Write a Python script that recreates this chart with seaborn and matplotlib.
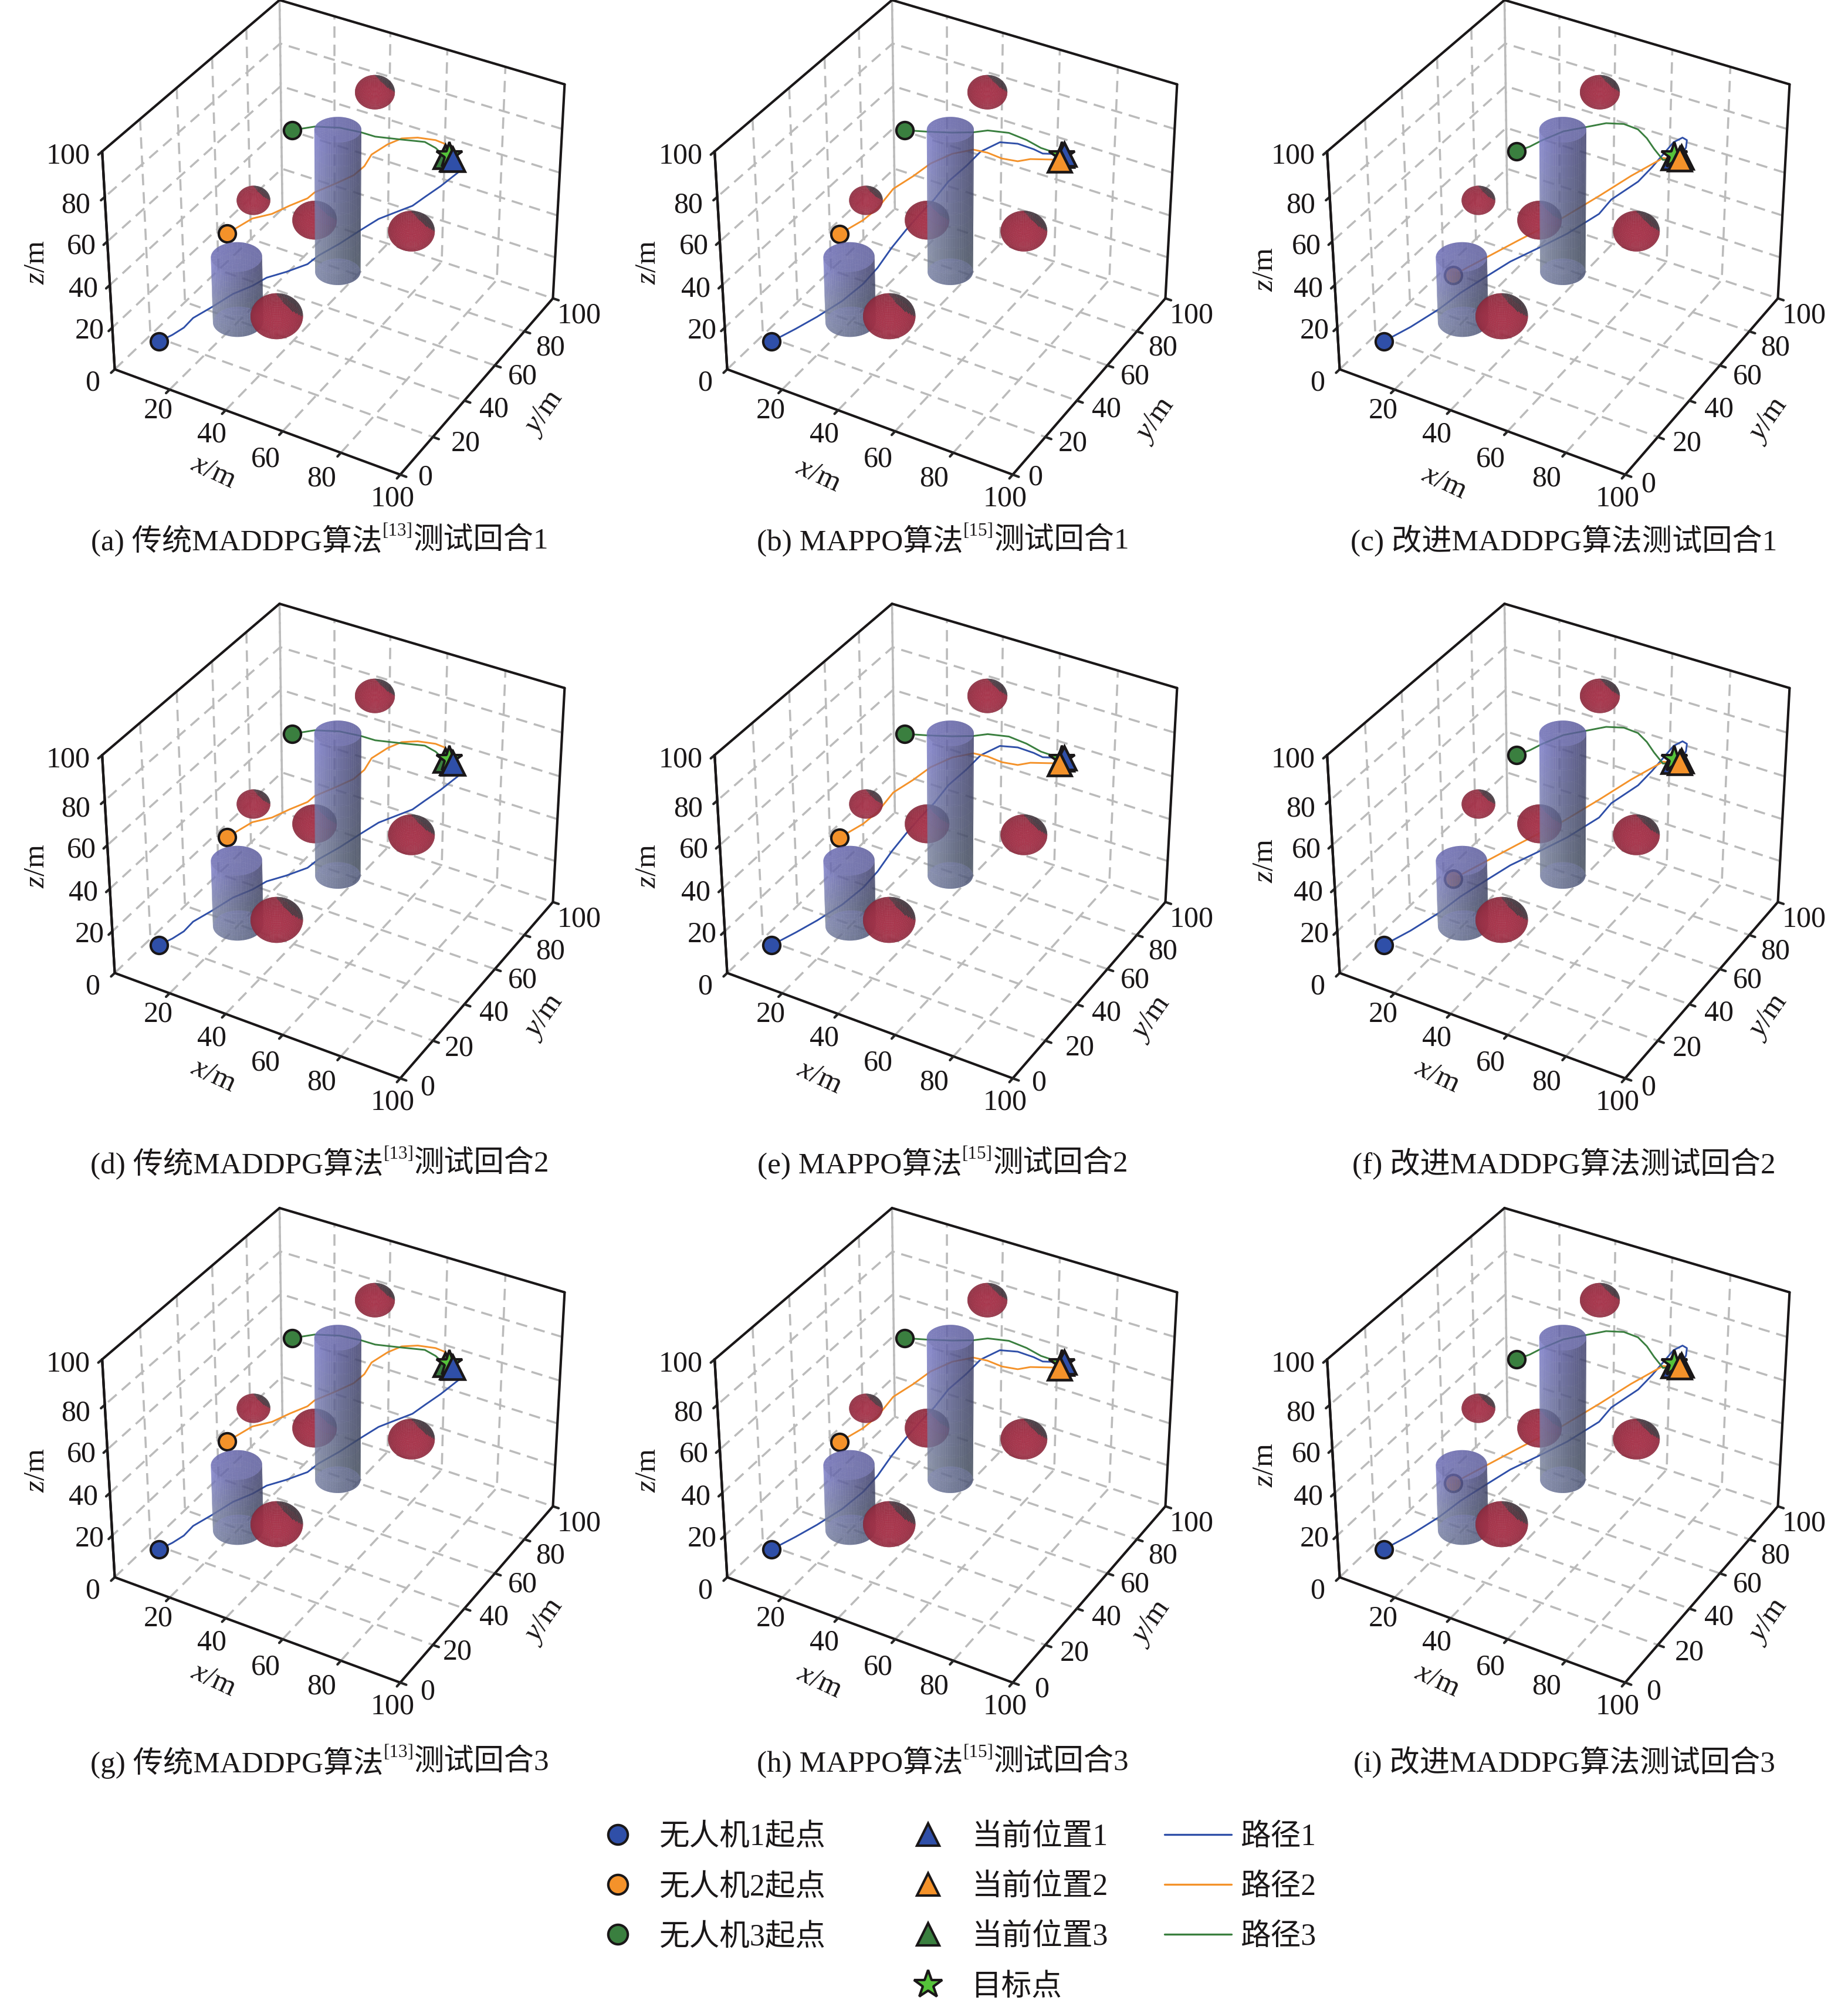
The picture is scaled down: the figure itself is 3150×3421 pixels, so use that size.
import numpy as np
import matplotlib
matplotlib.use("Agg")
import matplotlib.pyplot as plt
from matplotlib.lines import Line2D
from mpl_toolkits.mplot3d import proj3d
import seaborn as sns

FIG_W, FIG_H = 3150, 3421
DPI = 300
ELEV, AZIM, Z_RATIO, FOCAL = 35, -60, 0.8, 1.0
PX_PER_UNIT = 4786
ORIGIN = (575.4, 388.9)
COL_SHIFT = [0, 1044, 2088]
ROW_SHIFT = [0, 1029, 2059]

TICKS = [0, 20, 40, 60, 80, 100]

# 障碍物
SPHERE_X = [40.4, 26.3, 41.8, 64.8, 40.2]
SPHERE_Y = [89.8, 40.1, 50.2, 69.9, 29.9]
SPHERE_Z = [80, 60, 50, 40, 20]
SPHERE_R = [6.2, 5.1, 6.8, 7.2, 8.0]
CYL_X = [33.7, 20.0]
CYL_Y = [78.4, 39.6]
CYL_R = [7.3, 7.9]
CYL_H = [68.0, 31.2]

# 路径: 传统MADDPG
A_BLUE_X = [10.1, 13.7, 16.6, 18.3, 22.1, 26.0, 30.8, 34.2, 39.7, 45.0, 47.4, 51.6, 55.4, 59.0, 63.3, 68.0, 70.7, 73.8, 76.7, 73.3]
A_BLUE_Y = [10.0, 12.0, 14.1, 16.8, 21.5, 27.6, 31.4, 34.1, 36.7, 40.4, 42.7, 48.4, 54.8, 59.4, 61.6, 64.3, 67.2, 71.4, 78.5, 80.1]
A_BLUE_Z = [10, 13.2, 16.3, 19.5, 22.6, 25.8, 28.9, 32.1, 35.3, 38.4, 41.6, 44.7, 47.9, 51.1, 54.2, 57.4, 60.5, 63.7, 66.8, 70]
A_ORANGE_X = [10.1, 14.3, 19.9, 24.0, 28.4, 30.2, 35.1, 39.2, 41.1, 41.4, 44.5, 48.2, 53.9, 60.9, 65.7, 71.0]
A_ORANGE_Y = [49.9, 58.3, 61.0, 65.0, 68.6, 69.9, 74.9, 78.8, 82.2, 86.2, 90.9, 93.3, 93.3, 91.9, 88.7, 81.1]
A_ORANGE_Z = [30, 32.7, 35.3, 38, 40.7, 43.3, 46, 48.7, 51.3, 54, 56.7, 59.3, 62, 64.7, 67.3, 70]
A_GREEN_X = [10.1, 16.9, 25.6, 34.3, 40.9, 49.9, 58.7, 64.6, 70.5]
A_GREEN_Y = [90.0, 92.8, 93.5, 91.9, 89.3, 89.1, 89.0, 85.0, 79.6]
A_GREEN_Z = [50, 52.5, 55, 57.5, 60, 62.5, 65, 67.5, 70]

# 路径: MAPPO
B_BLUE_X = [10.1, 15.1, 19.6, 24.0, 27.0, 28.5, 28.9, 29.9, 31.3, 33.2, 34.1, 36.7, 38.7, 43.4, 50.7, 58.5, 64.1, 71.9]
B_BLUE_Y = [10.0, 16.0, 21.2, 28.7, 36.3, 42.5, 50.3, 57.4, 63.7, 69.2, 76.5, 83.2, 88.8, 92.8, 91.1, 87.1, 82.5, 81.6]
B_BLUE_Z = [10, 13.5, 17.1, 20.6, 24.1, 27.6, 31.2, 34.7, 38.2, 41.8, 45.3, 48.8, 52.4, 55.9, 59.4, 62.9, 66.5, 70]
B_ORANGE_X = [10.2, 14.7, 17.3, 18.0, 21.8, 25.0, 30.1, 36.7, 43.4, 50.8, 57.7, 62.4, 72.1]
B_ORANGE_Y = [49.7, 56.7, 61.1, 69.7, 75.5, 81.0, 85.7, 87.7, 84.8, 80.7, 78.3, 77.7, 78.3]
B_ORANGE_Z = [30, 33.3, 36.7, 40, 43.3, 46.7, 50, 53.3, 56.7, 60, 63.3, 66.7, 70]
B_GREEN_X = [10.1, 18.3, 27.0, 34.3, 39.2, 47.1, 55.3, 62.7, 71.6]
B_GREEN_Y = [90.0, 90.2, 91.0, 91.9, 92.4, 91.8, 88.3, 83.9, 81.0]
B_GREEN_Z = [50, 52.5, 55, 57.5, 60, 62.5, 65, 67.5, 70]

# 路径: 改进MADDPG
C_BLUE_X = [10.0, 15.1, 19.8, 23.0, 27.6, 31.7, 37.5, 43.2, 48.4, 49.7, 54.0, 55.8, 57.2, 58.6, 61.7, 65.4, 68.9, 71.7, 73.0]
C_BLUE_Y = [10.0, 17.3, 26.4, 33.8, 43.1, 49.3, 56.8, 64.6, 75.6, 81.1, 90.6, 96.5, 100.9, 105.3, 105.3, 101.1, 93.8, 86.1, 78.8]
C_BLUE_Z = [10, 13.3, 16.7, 20, 23.3, 26.7, 30, 33.3, 36.7, 40, 43.3, 46.7, 50, 53.3, 56.7, 60, 63.3, 66.7, 70]
C_ORANGE_X = [11.4, 20.0, 27.8, 34.8, 42.2, 50.1, 57.4, 65.3, 74.0]
C_ORANGE_Y = [48.1, 55.6, 60.1, 61.5, 64.1, 72.5, 79.5, 85.5, 79.4]
C_ORANGE_Z = [12.0, 19.2, 26.5, 33.8, 41.0, 48.2, 55.5, 62.8, 70.0]
C_GREEN_X = [13.1, 16.8, 19.7, 24.4, 31.3, 36.6, 43.0, 49.7, 55.9, 62.0, 68.5, 74.0]
C_GREEN_Y = [84.5, 86.6, 89.4, 94.9, 98.8, 100.9, 100.9, 97.9, 92.3, 85.7, 79.3, 80.5]
C_GREEN_Z = [45.0, 47.3, 49.5, 51.8, 54.1, 56.4, 58.6, 60.9, 63.2, 65.5, 67.7, 70.0]

PATHS = [
    [(A_BLUE_X, A_BLUE_Y, A_BLUE_Z), (A_ORANGE_X, A_ORANGE_Y, A_ORANGE_Z), (A_GREEN_X, A_GREEN_Y, A_GREEN_Z)],
    [(B_BLUE_X, B_BLUE_Y, B_BLUE_Z), (B_ORANGE_X, B_ORANGE_Y, B_ORANGE_Z), (B_GREEN_X, B_GREEN_Y, B_GREEN_Z)],
    [(C_BLUE_X, C_BLUE_Y, C_BLUE_Z), (C_ORANGE_X, C_ORANGE_Y, C_ORANGE_Z), (C_GREEN_X, C_GREEN_Y, C_GREEN_Z)],
]

STAR = (71.6, 80.9, 70)
CURRENT = [
    {"blue": (73.6, 79.4, 70), "orange": (73.1, 79.5, 70), "green": (70.9, 79.4, 70)},
    {"blue": (71.9, 81.8, 70), "orange": (72.2, 78.2, 70), "green": (71.6, 80.9, 70)},
    {"blue": (71.9, 79.5, 70), "orange": (74.0, 79.7, 70), "green": (74.0, 80.8, 70)},
]
DRAW_ORDER = [
    ["orange", "green", "star", "blue"],
    ["green", "star", "blue", "orange"],
    ["blue", "star", "green", "orange"],
]

CAPTIONS = [
    [("(a) 传统MADDPG算法", "[13]", "测试回合1"), ("(b) MAPPO算法", "[15]", "测试回合1"), ("(c) 改进MADDPG算法测试回合1", "", "")],
    [("(d) 传统MADDPG算法", "[13]", "测试回合2"), ("(e) MAPPO算法", "[15]", "测试回合2"), ("(f) 改进MADDPG算法测试回合2", "", "")],
    [("(g) 传统MADDPG算法", "[13]", "测试回合3"), ("(h) MAPPO算法", "[15]", "测试回合3"), ("(i) 改进MADDPG算法测试回合3", "", "")],
]
CAPTION_X = [545, 1607, 2666]
CAPTION_Y = [917, 1979, 2999]

# 刻度文字相对刻度的像素偏移
X_LABEL_OFF = {20: (-19, 36), 40: (-24, 42), 60: (-29, 48), 80: (-33, 45), 100: (-13, 41)}
Z_LABEL_OFF = {0: (-38, 24), 20: (-39, 6), 40: (-45, 7), 60: (-44, 9), 80: (-50, 15), 100: (-58, 8)}
Y_LABEL_OFF = {40: (50, 15), 60: (47, 19), 80: (44, 28), 100: (45, 30)}
Y0_OFF = [[(42, 5), (38, 5), (39, 17)], [(46, 16), (44, 8), (39, 16)], [(46, 16), (49, 12), (48, 16)]]
Y20_OFF = [[(56, 11), (47, 11), (50, 11)], [(45, 13), (59, 12), (50, 13)], [(42, 12), (50, 14), (54, 13)]]
XLAB_POS = [[(364, 805), (351, 811), (374, 823)], [(364, 805), (353, 808), (362, 806)], [(364, 805), (353, 808), (362, 806)]]
YLAB_POS = [[(927, 704), (925, 716), (926, 716)], [(927, 704), (918, 707), (926, 704)], [(927, 704), (918, 707), (926, 704)]]
ZLAB_POS = [[(63, 447), (61, 447), (69, 459)], [(63, 447), (61, 447), (69, 438)], [(63, 447), (61, 447), (69, 438)]]

BLUE, ORANGE, GREEN = sns.color_palette(["#2F4FA8", "#F4922A", "#3A7F3F"])
STAR_GREEN = "#55C23A"
EDGE = "#1A1718"
GRID = "#BBBBBB"

sns.set_theme(style="white")
plt.rcParams["font.family"] = ["Liberation Serif", "Noto Sans CJK SC"]
plt.rcParams["mathtext.fontset"] = "custom"
plt.rcParams["mathtext.rm"] = "Liberation Serif"
plt.rcParams["mathtext.it"] = "Liberation Serif:italic"
plt.rcParams["text.color"] = EDGE

az, el = np.radians(AZIM), np.radians(ELEV)
RIGHT = np.array([-np.sin(az), np.cos(az), 0.0])
UP = np.array([-np.sin(el) * np.cos(az), -np.sin(el) * np.sin(az), np.cos(el)])
VIEW = np.array([np.cos(el) * np.cos(az), np.cos(el) * np.sin(az), np.sin(el)])


def draw_sphere(ax, cx, cy, cz, r, zorder):
    u, v = np.meshgrid(np.linspace(0, 2 * np.pi, 61), np.linspace(0, np.pi, 41))
    nx, ny, nz = np.cos(u) * np.sin(v), np.sin(u) * np.sin(v), np.cos(v)
    n = np.stack([nx, ny, nz], axis=-1)
    cap = n @ ((RIGHT + UP) / np.sqrt(2) + 0.1 * VIEW) > 0.72
    lum = 0.80 + 0.24 * np.clip(n @ VIEW, 0, 1)[..., None]
    col = np.array([0.65, 0.20, 0.29]) * lum
    col[cap] = [0.27, 0.22, 0.25]
    ax.plot_surface(cx + r * nx, cy + r * ny, cz + r * nz, facecolors=col, rstride=1, cstride=1,
                    shade=False, linewidth=0, alpha=0.88, zorder=zorder)


def draw_cylinder(ax, cx, cy, r, h, zorder):
    t, zz = np.meshgrid(np.linspace(0, 2 * np.pi, 61), np.linspace(0, h, 13))
    nx, ny = np.cos(t), np.sin(t)
    side = (nx * RIGHT[0] + ny * RIGHT[1])[..., None]
    frac = (zz / h)[..., None]
    top = np.array([0.47, 0.47, 0.80]) * (0.5 - side / 2) + np.array([0.23, 0.23, 0.42]) * (0.5 + side / 2)
    bottom = np.array([0.47, 0.51, 0.59]) * (0.5 - side / 2) + np.array([0.22, 0.26, 0.32]) * (0.5 + side / 2)
    col = np.clip(top * frac + bottom * (1 - frac), 0, 1)
    rr, tt = np.meshgrid(np.linspace(0, r, 6), np.linspace(0, 2 * np.pi, 61))
    ax.plot_surface(cx + rr * np.cos(tt), cy + rr * np.sin(tt), np.zeros_like(rr), color=(0.45, 0.47, 0.75),
                    shade=False, linewidth=0, alpha=0.62, zorder=zorder)
    ax.plot_surface(cx + r * nx, cy + r * ny, zz, facecolors=col, rstride=1, cstride=1,
                    shade=False, linewidth=0, alpha=0.62, zorder=zorder + 0.1)
    ax.plot_surface(cx + rr * np.cos(tt), cy + rr * np.sin(tt), np.full_like(rr, h), color=(0.40, 0.40, 0.68),
                    shade=False, linewidth=0, alpha=0.62, zorder=zorder + 0.2)


def style_axes(ax):
    ax.view_init(ELEV, AZIM)
    ax.set_box_aspect((1, 1, Z_RATIO))
    ax.set_proj_type("persp", focal_length=FOCAL)
    ax.set_xlim(0, 100, view_margin=0)
    ax.set_ylim(0, 100, view_margin=0)
    ax.set_zlim(0, 100, view_margin=0)
    ax.set_xticks(TICKS, [""] * len(TICKS))
    ax.set_yticks(TICKS, [""] * len(TICKS))
    # z=0 的网格线会与地面边线重叠成实线, 不画
    ax.set_zticks(TICKS[1:], [""] * (len(TICKS) - 1))
    ax.zaxis.set_ticks_position("lower")
    ax.set_facecolor("none")
    ax.computed_zorder = False
    for axis in (ax.xaxis, ax.yaxis, ax.zaxis):
        axis.set_pane_color((1, 1, 1, 0))
        axis.pane.set_edgecolor((1, 1, 1, 0))
        axis.line.set_color(EDGE)
        axis.line.set_linewidth(1.0)
        axis._axinfo["grid"].update(color=GRID, linewidth=0.85, linestyle=(0, (5.5, 3.3)))
        axis._axinfo["tick"].update(inward_factor=0.25, outward_factor=0.0, linewidth={True: 1.0, False: 1.0}, color=EDGE)
    lo, hi = TICKS[0], TICKS[-1]
    for xs, ys, zs in [((lo, lo), (lo, hi), (hi, hi)), ((lo, hi), (hi, hi), (hi, hi)), ((hi, hi), (hi, hi), (lo, hi)), ((lo, lo), (lo, lo), (lo, hi))]:
        ax.plot(xs, ys, zs, color=EDGE, lw=1.0, zorder=1)


def panel_axes(fig, col, row):
    x0, y0 = ORIGIN[0] + COL_SHIFT[col], ORIGIN[1] + ROW_SHIFT[row]
    ax = fig.add_axes([0, 0, 0.3, 0.3], projection="3d")
    style_axes(ax)
    vx0, vx1 = ax.viewLim.intervalx
    vy0, vy1 = ax.viewLim.intervaly
    left = x0 + PX_PER_UNIT * vx0
    bottom = FIG_H - (y0 - PX_PER_UNIT * vy0)
    ax.set_position([left / FIG_W, bottom / FIG_H, PX_PER_UNIT * (vx1 - vx0) / FIG_W, PX_PER_UNIT * (vy1 - vy0) / FIG_H])
    return ax


def tick_text(ax, M, pos, text, off):
    px, py, _ = proj3d.proj_transform(*pos, M)
    ax.annotate(text, (px, py), xycoords="data", xytext=(off[0] * 72 / DPI, -off[1] * 72 / DPI), textcoords="offset points",
                ha="center", va="center", fontsize=12, annotation_clip=False, color=EDGE, zorder=20)


def add_tick_labels(ax, col, row):
    M = ax.get_proj()
    lo, hi = TICKS[0], TICKS[-1]
    for t, off in X_LABEL_OFF.items():
        tick_text(ax, M, (t, lo, lo), str(t), off)
    for t, off in Z_LABEL_OFF.items():
        tick_text(ax, M, (lo, lo, t), str(t), off)
    tick_text(ax, M, (hi, 0, lo), "0", Y0_OFF[row][col])
    tick_text(ax, M, (hi, 20, lo), "20", Y20_OFF[row][col])
    for t, off in Y_LABEL_OFF.items():
        tick_text(ax, M, (hi, t, lo), str(t), off)


def put_caption(fig, cx, y, parts):
    main, sup, rest = parts
    rend = fig.canvas.get_renderer()
    pieces = []
    total = 0
    for s, size, dy in [(main, 12.3, 0), (sup, 7.5, 15), (rest, 12.3, 0)]:
        if not s:
            continue
        t = fig.text(0, 1 - (y - dy) / FIG_H, s, fontsize=size, va="center_baseline", ha="left")
        w = t.get_window_extent(rend).width
        pieces.append((t, w))
        total += w
    x = cx - total / 2
    for t, w in pieces:
        t.set_x(x / FIG_W)
        x += w


def draw_panel(fig, col, row):
    ax = panel_axes(fig, col, row)
    for (x, y, z), c in zip(PATHS[col], (BLUE, ORANGE, GREEN)):
        ax.plot(x, y, z, color=c, lw=0.7, zorder=2)
        ax.plot(x[:1], y[:1], z[:1], ls="none", marker="o", ms=7.0, mfc=c, mec=EDGE, mew=1.0, zorder=3)
    for i in range(4):
        draw_sphere(ax, SPHERE_X[i], SPHERE_Y[i], SPHERE_Z[i], SPHERE_R[i], 4)
    for i in range(2):
        draw_cylinder(ax, CYL_X[i], CYL_Y[i], CYL_R[i], CYL_H[i], 5)
    draw_sphere(ax, SPHERE_X[4], SPHERE_Y[4], SPHERE_Z[4], SPHERE_R[4], 6)

    colors = {"blue": BLUE, "orange": ORANGE, "green": GREEN}
    for j, who in enumerate(DRAW_ORDER[col]):
        if who == "star":
            ax.plot(*[[v] for v in STAR], ls="none", marker="*", ms=11, mfc=STAR_GREEN, mec=EDGE, mew=1.0, zorder=8 + j)
        else:
            ax.plot(*[[v] for v in CURRENT[col][who]], ls="none", marker="^", ms=9.6, mfc=colors[who], mec=EDGE, mew=1.1, zorder=8 + j)

    add_tick_labels(ax, col, row)
    px, py = COL_SHIFT[col], ROW_SHIFT[row]
    for pos, s, rot in [(XLAB_POS[row][col], r"$\mathit{x}$/m", -25), (YLAB_POS[row][col], r"$\mathit{y}$/m", 55), (ZLAB_POS[row][col], r"$\mathit{z}$/m", 90)]:
        fig.text((pos[0] + px) / FIG_W, 1 - (pos[1] + py) / FIG_H, s, fontsize=12.3, rotation=rot, ha="center", va="center")
    put_caption(fig, CAPTION_X[col], CAPTION_Y[row], CAPTIONS[row][col])


def add_legends(fig):
    kw = dict(ls="none", mec=EDGE)
    starts = [Line2D([], [], marker="o", ms=8, mfc=c, mew=1.0, label=f"无人机{i}起点", **kw) for i, c in enumerate([BLUE, ORANGE, GREEN], 1)]
    current = [Line2D([], [], marker="^", ms=9.2, mfc=c, mew=1.0, label=f"当前位置{i}", **kw) for i, c in enumerate([BLUE, ORANGE, GREEN], 1)]
    current.append(Line2D([], [], marker="*", ms=12, mfc=STAR_GREEN, mew=1.0, label="目标点", **kw))
    lines = [Line2D([], [], color=c, lw=0.8, label=f"路径{i}") for i, c in enumerate([BLUE, ORANGE, GREEN], 1)]
    for handles, x, pad in [(starts, 996, 0.27), (current, 1525, 0.33), (lines, 1985, 0.29)]:
        fig.legend(handles=handles, loc="upper left", bbox_to_anchor=(x / FIG_W, 1 - 3108 / FIG_H), frameon=False, fontsize=12.4,
                   handlelength=2.2, handletextpad=pad, labelspacing=0.72, borderpad=0, borderaxespad=0)


def main():
    fig = plt.figure(figsize=(FIG_W / DPI, FIG_H / DPI), dpi=DPI, facecolor="white")
    for row in range(3):
        for col in range(3):
            draw_panel(fig, col, row)
    add_legends(fig)
    fig.savefig("out.png", dpi=DPI)


if __name__ == "__main__":
    main()
